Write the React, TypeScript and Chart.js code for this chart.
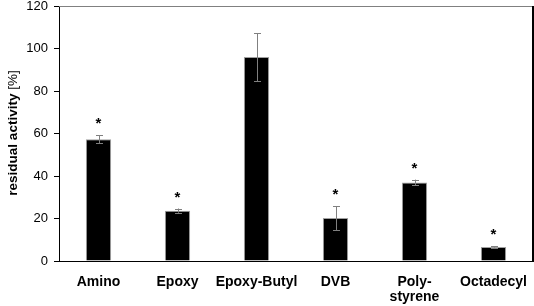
import React, { useEffect, useRef } from "react";
import { Chart, registerables } from "chart.js";
Chart.register(...registerables);

const categories: (string | string[])[] = ["Amino", "Epoxy", "Epoxy-Butyl", "DVB", ["Poly-", "styrene"], "Octadecyl"];
const values = [57.3, 23.7, 96.0, 20.2, 37.0, 6.6];
const errors = [2.0, 1.0, 11.3, 5.6, 1.3, 0.3];
const significant = [true, true, false, true, true, true];
const yTicks = [0, 20, 40, 60, 80, 100, 120];

const overlay = {
  id: "overlay",
  afterDatasetsDraw(chart: any) {
    const ctx = chart.ctx;
    const meta = chart.getDatasetMeta(0);
    const y = chart.scales.y;
    const area = chart.chartArea;
    ctx.save();
    // frame: top gray, right black
    ctx.strokeStyle = "#808080";
    ctx.lineWidth = 1;
    ctx.beginPath();
    ctx.moveTo(area.left, Math.round(area.top) + 0.5);
    ctx.lineTo(area.right, Math.round(area.top) + 0.5);
    ctx.stroke();
    ctx.strokeStyle = "#000";
    ctx.lineWidth = 2;
    ctx.beginPath();
    ctx.moveTo(Math.round(area.right), area.top);
    ctx.lineTo(Math.round(area.right), area.bottom);
    ctx.stroke();
    // error bars
    meta.data.forEach((bar: any, i: number) => {
      const x = Math.round(bar.x) + 0.5;
      const top = y.getPixelForValue(values[i] + errors[i]);
      const bot = y.getPixelForValue(values[i] - errors[i]);
      ctx.strokeStyle = "#808080";
      ctx.lineWidth = 1;
      ctx.beginPath();
      ctx.moveTo(x, top);
      ctx.lineTo(x, bot);
      ctx.moveTo(x - 3.5, Math.round(top) + 0.5);
      ctx.lineTo(x + 3.5, Math.round(top) + 0.5);
      ctx.moveTo(x - 3.5, Math.round(bot) + 0.5);
      ctx.lineTo(x + 3.5, Math.round(bot) + 0.5);
      ctx.stroke();
      if (significant[i]) {
        ctx.fillStyle = "#000";
        ctx.font = "bold 15px 'Liberation Sans', Arial, sans-serif";
        ctx.textAlign = "center";
        ctx.textBaseline = "alphabetic";
        ctx.fillText("*", bar.x, top - 7);
      }
    });
    // y-axis title
    ctx.translate(13, 133);
    ctx.rotate(-Math.PI / 2);
    ctx.fillStyle = "#000";
    ctx.textBaseline = "middle";
    const boldFont = "bold 13.5px 'Liberation Sans', Arial, sans-serif";
    const normFont = "13.5px 'Liberation Sans', Arial, sans-serif";
    const p1 = "residual activity ";
    const p2 = "[%]";
    ctx.font = boldFont;
    const w1 = ctx.measureText(p1).width;
    ctx.font = normFont;
    const w2 = ctx.measureText(p2).width;
    const start = -(w1 + w2) / 2;
    ctx.textAlign = "left";
    ctx.font = boldFont;
    ctx.fillText(p1, start, 0);
    ctx.font = normFont;
    ctx.fillText(p2, start + w1, 0);
    ctx.restore();
  },
};

export default function App() {
  const ref = useRef<HTMLCanvasElement>(null);
  useEffect(() => {
    document.body.style.margin = "0";
    const chart = new Chart(ref.current!, {
      type: "bar",
      data: {
        labels: categories as any,
        datasets: [
          {
            data: values,
            backgroundColor: "#000",
            borderColor: "#a0a0a0",
            borderWidth: 1,
            categoryPercentage: 1,
            barPercentage: 0.32,
          },
        ],
      },
      options: {
        animation: false,
        responsive: false,
        maintainAspectRatio: false,
        layout: { padding: { top: 6, right: 1, left: 0, bottom: 0 } },
        plugins: { legend: { display: false }, tooltip: { enabled: false } },
        scales: {
          x: {
            grid: { display: false },
            border: { color: "#000", width: 1 },
            ticks: {
              color: "#000",
              padding: 5,
              font: { family: "'Liberation Sans', Arial, sans-serif", size: 14, weight: "bold", lineHeight: 1.1 },
              maxRotation: 0,
              autoSkip: false,
            },
            afterFit: (s: any) => {
              s.height = 45;
              s.paddingLeft = 0;
              s.paddingRight = 0;
            },
          },
          y: {
            min: 0,
            max: 120,
            afterBuildTicks: (s: any) => {
              s.ticks = yTicks.map((v) => ({ value: v }));
            },
            grid: { drawOnChartArea: false, drawTicks: true, tickLength: 5, color: "#000" },
            border: { color: "#000", width: 1 },
            ticks: {
              color: "#000",
              padding: 6,
              font: { family: "'Liberation Sans', Arial, sans-serif", size: 13 },
            },
            afterFit: (s: any) => {
              s.width = 59;
              s.paddingTop = 0;
              s.paddingBottom = 0;
            },
          },
        },
      },
      plugins: [overlay],
    });
    return () => chart.destroy();
  }, []);
  return (
    <div style={{ width: 534, height: 306 }}>
      <canvas ref={ref} width={534} height={306} style={{ display: "block" }} />
    </div>
  );
}
